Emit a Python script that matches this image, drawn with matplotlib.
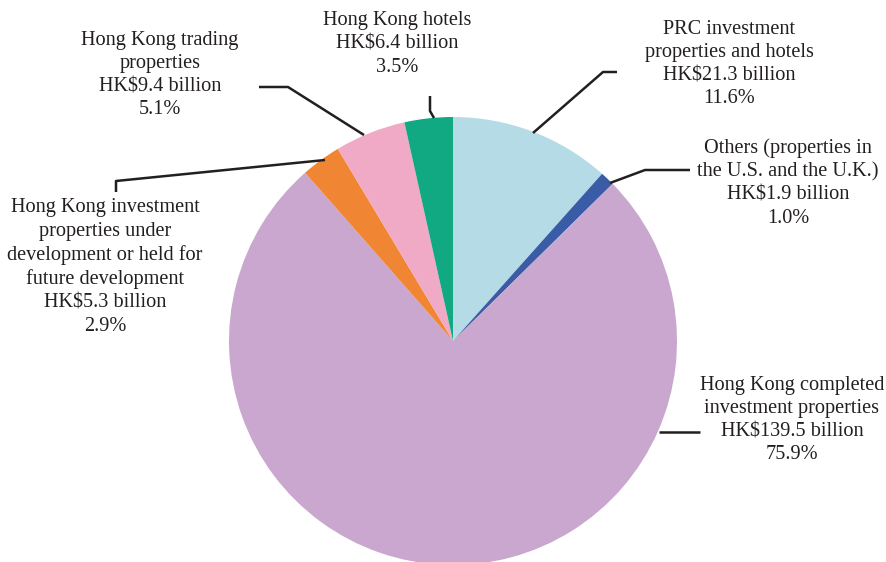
import matplotlib.pyplot as plt

plt.rcParams["font.family"] = ["Liberation Serif", "DejaVu Serif"]

# Data (clockwise from 12 o'clock)
labels = [
    "PRC investment\nproperties and hotels",
    "Others (properties in\nthe U.S. and the U.K.)",
    "Hong Kong completed\ninvestment properties",
    "Hong Kong investment\nproperties under\ndevelopment or held for\nfuture development",
    "Hong Kong trading\nproperties",
    "Hong Kong hotels",
]
values_bn = [21.3, 1.9, 139.5, 5.3, 9.4, 6.4]
shares = [11.6, 1.0, 75.9, 2.9, 5.1, 3.5]
colors = ["#b5dce6", "#3a5ba6", "#c9a7ce", "#f08634", "#f0aac6", "#10a981"]

# Layout in pixel coordinates (y grows downward)
W, H = 886, 562
center = (453, 341)
radius = 224
text_pos = [(729, 64), (788, 183), (792, 420), (105, 267), (160, 75), (397, 44)]
leaders = [
    [(617, 72), (603, 72), (533, 133)],
    [(690, 170), (645, 170), (610, 183)],
    [(700, 432), (659, 432)],
    [(116, 192), (116, 181), (325, 160)],
    [(259, 87), (288, 87), (364, 135)],
    [(430, 96), (430, 111), (434, 118)],
]

fig = plt.figure(figsize=(W / 100, H / 100), dpi=100)
ax = fig.add_axes([0, 0, 1, 1])

# y axis inverted: data-counterclockwise is visual clockwise
ax.pie(values_bn, colors=colors, startangle=-90, counterclock=True,
       center=center, radius=radius, frame=True,
       wedgeprops=dict(linewidth=0))
ax.set_xlim(0, W)
ax.set_ylim(H, 0)
ax.set_aspect("equal")
ax.axis("off")

for lab, v, s, pos, pts in zip(labels, values_bn, shares, text_pos, leaders):
    txt = f"{lab}\nHK${v:.1f} billion\n{s:.1f}%"
    ax.text(pos[0], pos[1], txt, ha="center", va="center", fontsize=14.6,
            color="#231f20", linespacing=1.3)
    xs, ys = zip(*pts)
    ax.plot(xs, ys, color="#231f20", lw=1.8, solid_capstyle="butt")

fig.savefig("out.png", dpi=100)
